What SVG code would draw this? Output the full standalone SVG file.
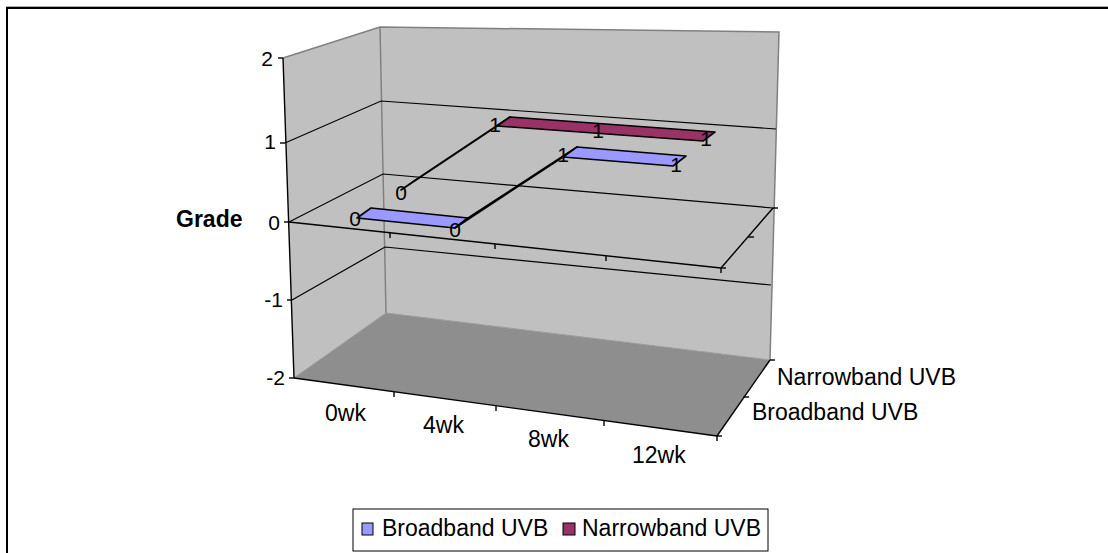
<svg xmlns="http://www.w3.org/2000/svg" width="1108" height="553" viewBox="0 0 1108 553">
<style>
.t{font-family:"Liberation Sans",Arial,sans-serif;fill:#000}
.ax{font-size:21px}
.cat{font-size:23px}
.dl{font-size:21px}
.grid{stroke:#000;stroke-width:1.2;fill:none}
.edge{stroke:#808080;stroke-width:1.5;fill:none}
.axis{stroke:#000;stroke-width:1.4;fill:none}
.blue{fill:#9999FF;stroke:#000;stroke-width:1.6;stroke-linejoin:round}
.mag{fill:#993366;stroke:#000;stroke-width:1.6;stroke-linejoin:round}
</style>
<rect x="0" y="0" width="1108" height="553" fill="#fff"/>
<line x1="6" y1="6.5" x2="1108" y2="6.5" stroke="#b0b0b0" stroke-width="1"/>
<rect x="7" y="8" width="1110" height="600" fill="none" stroke="#000" stroke-width="2"/>

<g id="walls">
  <polygon points="283,58 380,27 386,313 294,378" fill="#C0C0C0"/>
  <polygon points="380,27 779,32 770,360 386,313" fill="#C0C0C0"/>
  <polygon points="386,313 770,360 717,436 294,378" fill="#8E8E8E"/>
  <polyline class="edge" points="283,58 380,27 779,32 770,360"/>
  <line class="edge" x1="380" y1="27" x2="386" y2="313"/>
  <polyline points="294,378 386,313 770,360" fill="none" stroke="#9a9a9a" stroke-width="1"/>
</g>

<g id="gridlines">
  <polyline class="grid" points="285,143 381,101 776,129"/>
  <polyline class="grid" points="289,222 383,174 773,208"/>
  <polyline class="grid" points="292,300 385,247 771,285"/>
</g>

<g id="value-axis">
  <line class="axis" x1="283" y1="58" x2="294" y2="378"/>
  <line class="axis" x1="278" y1="58" x2="283" y2="58"/>
  <line class="axis" x1="280" y1="143" x2="285" y2="143"/>
  <line class="axis" x1="284" y1="222" x2="289" y2="222"/>
  <line class="axis" x1="287" y1="300" x2="292" y2="300"/>
  <line class="axis" x1="289" y1="378" x2="294" y2="378"/>
  <text class="t ax" x="273" y="66" text-anchor="end">2</text>
  <text class="t ax" x="276" y="149" text-anchor="end">1</text>
  <text class="t ax" x="280" y="230" text-anchor="end">0</text>
  <text class="t ax" x="283" y="307" text-anchor="end">-1</text>
  <text class="t ax" x="285" y="385" text-anchor="end">-2</text>
  <text class="t" x="176" y="227" font-size="23" font-weight="bold">Grade</text>
</g>

<g id="zero-plane">
  <line class="axis" x1="289" y1="222" x2="721" y2="268"/>
  <line class="axis" x1="773" y1="208" x2="721" y2="268"/>
  <line class="axis" x1="390" y1="233" x2="390" y2="238"/>
  <line class="axis" x1="495" y1="244" x2="495" y2="249"/>
  <line class="axis" x1="606" y1="256" x2="606" y2="261"/>
  <line class="axis" x1="721" y1="268" x2="721" y2="273"/>
  <line class="axis" x1="721" y1="268" x2="726" y2="268"/>
  <line class="axis" x1="748" y1="237" x2="754" y2="237"/>
  <line class="axis" x1="773" y1="208" x2="778" y2="208"/>
</g>

<g id="floor-axes">
  <line class="axis" x1="294" y1="378" x2="717" y2="436"/>
  <line class="axis" x1="717" y1="436" x2="770" y2="360"/>
  <line class="axis" x1="394" y1="392" x2="394" y2="397"/>
  <line class="axis" x1="496" y1="406" x2="496" y2="411"/>
  <line class="axis" x1="604" y1="421" x2="604" y2="426"/>
  <line class="axis" x1="717" y1="436" x2="717" y2="441"/>
  <line class="axis" x1="717" y1="436" x2="722" y2="436"/>
  <line class="axis" x1="743" y1="397" x2="749" y2="397"/>
  <line class="axis" x1="770" y1="360" x2="775" y2="360"/>
  <text class="t cat" x="325" y="421">0wk</text>
  <text class="t cat" x="423" y="433">4wk</text>
  <text class="t cat" x="528" y="447">8wk</text>
  <text class="t cat" x="632" y="463">12wk</text>
  <text class="t cat" x="777" y="385">Narrowband UVB</text>
  <text class="t cat" x="752" y="420">Broadband UVB</text>
</g>

<g id="series-narrowband">
  <polygon class="mag" points="401,190 414,181 510,117 497,126"/>
  <polygon class="mag" points="497,126 510,117 715,132 703,141"/>
  <text class="t dl" x="401" y="200" text-anchor="middle">0</text>
  <text class="t dl" x="495" y="132" text-anchor="middle">1</text>
  <text class="t dl" x="598" y="138" text-anchor="middle">1</text>
  <text class="t dl" x="706" y="146" text-anchor="middle">1</text>
</g>

<g id="series-broadband">
  <polygon class="blue" points="357,218 371,208 468,218 455,228"/>
  <polygon class="blue" points="455,228 468,218 577,147 563,157"/>
  <polygon class="blue" points="563,157 577,147 686,156 673,166"/>
  <text class="t dl" x="355" y="226" text-anchor="middle">0</text>
  <text class="t dl" x="455" y="237" text-anchor="middle">0</text>
  <text class="t dl" x="563" y="162" text-anchor="middle">1</text>
  <text class="t dl" x="676" y="172" text-anchor="middle">1</text>
</g>

<g id="legend">
  <rect x="353" y="509" width="415" height="42" fill="#fff" stroke="#000" stroke-width="1"/>
  <rect x="362" y="523" width="11" height="12" fill="#9999FF" stroke="#000" stroke-width="1"/>
  <text class="t cat" x="382" y="536">Broadband UVB</text>
  <rect x="563" y="523" width="12" height="12" fill="#993366" stroke="#000" stroke-width="1"/>
  <text class="t cat" x="582" y="536">Narrowband UVB</text>
</g>
</svg>
